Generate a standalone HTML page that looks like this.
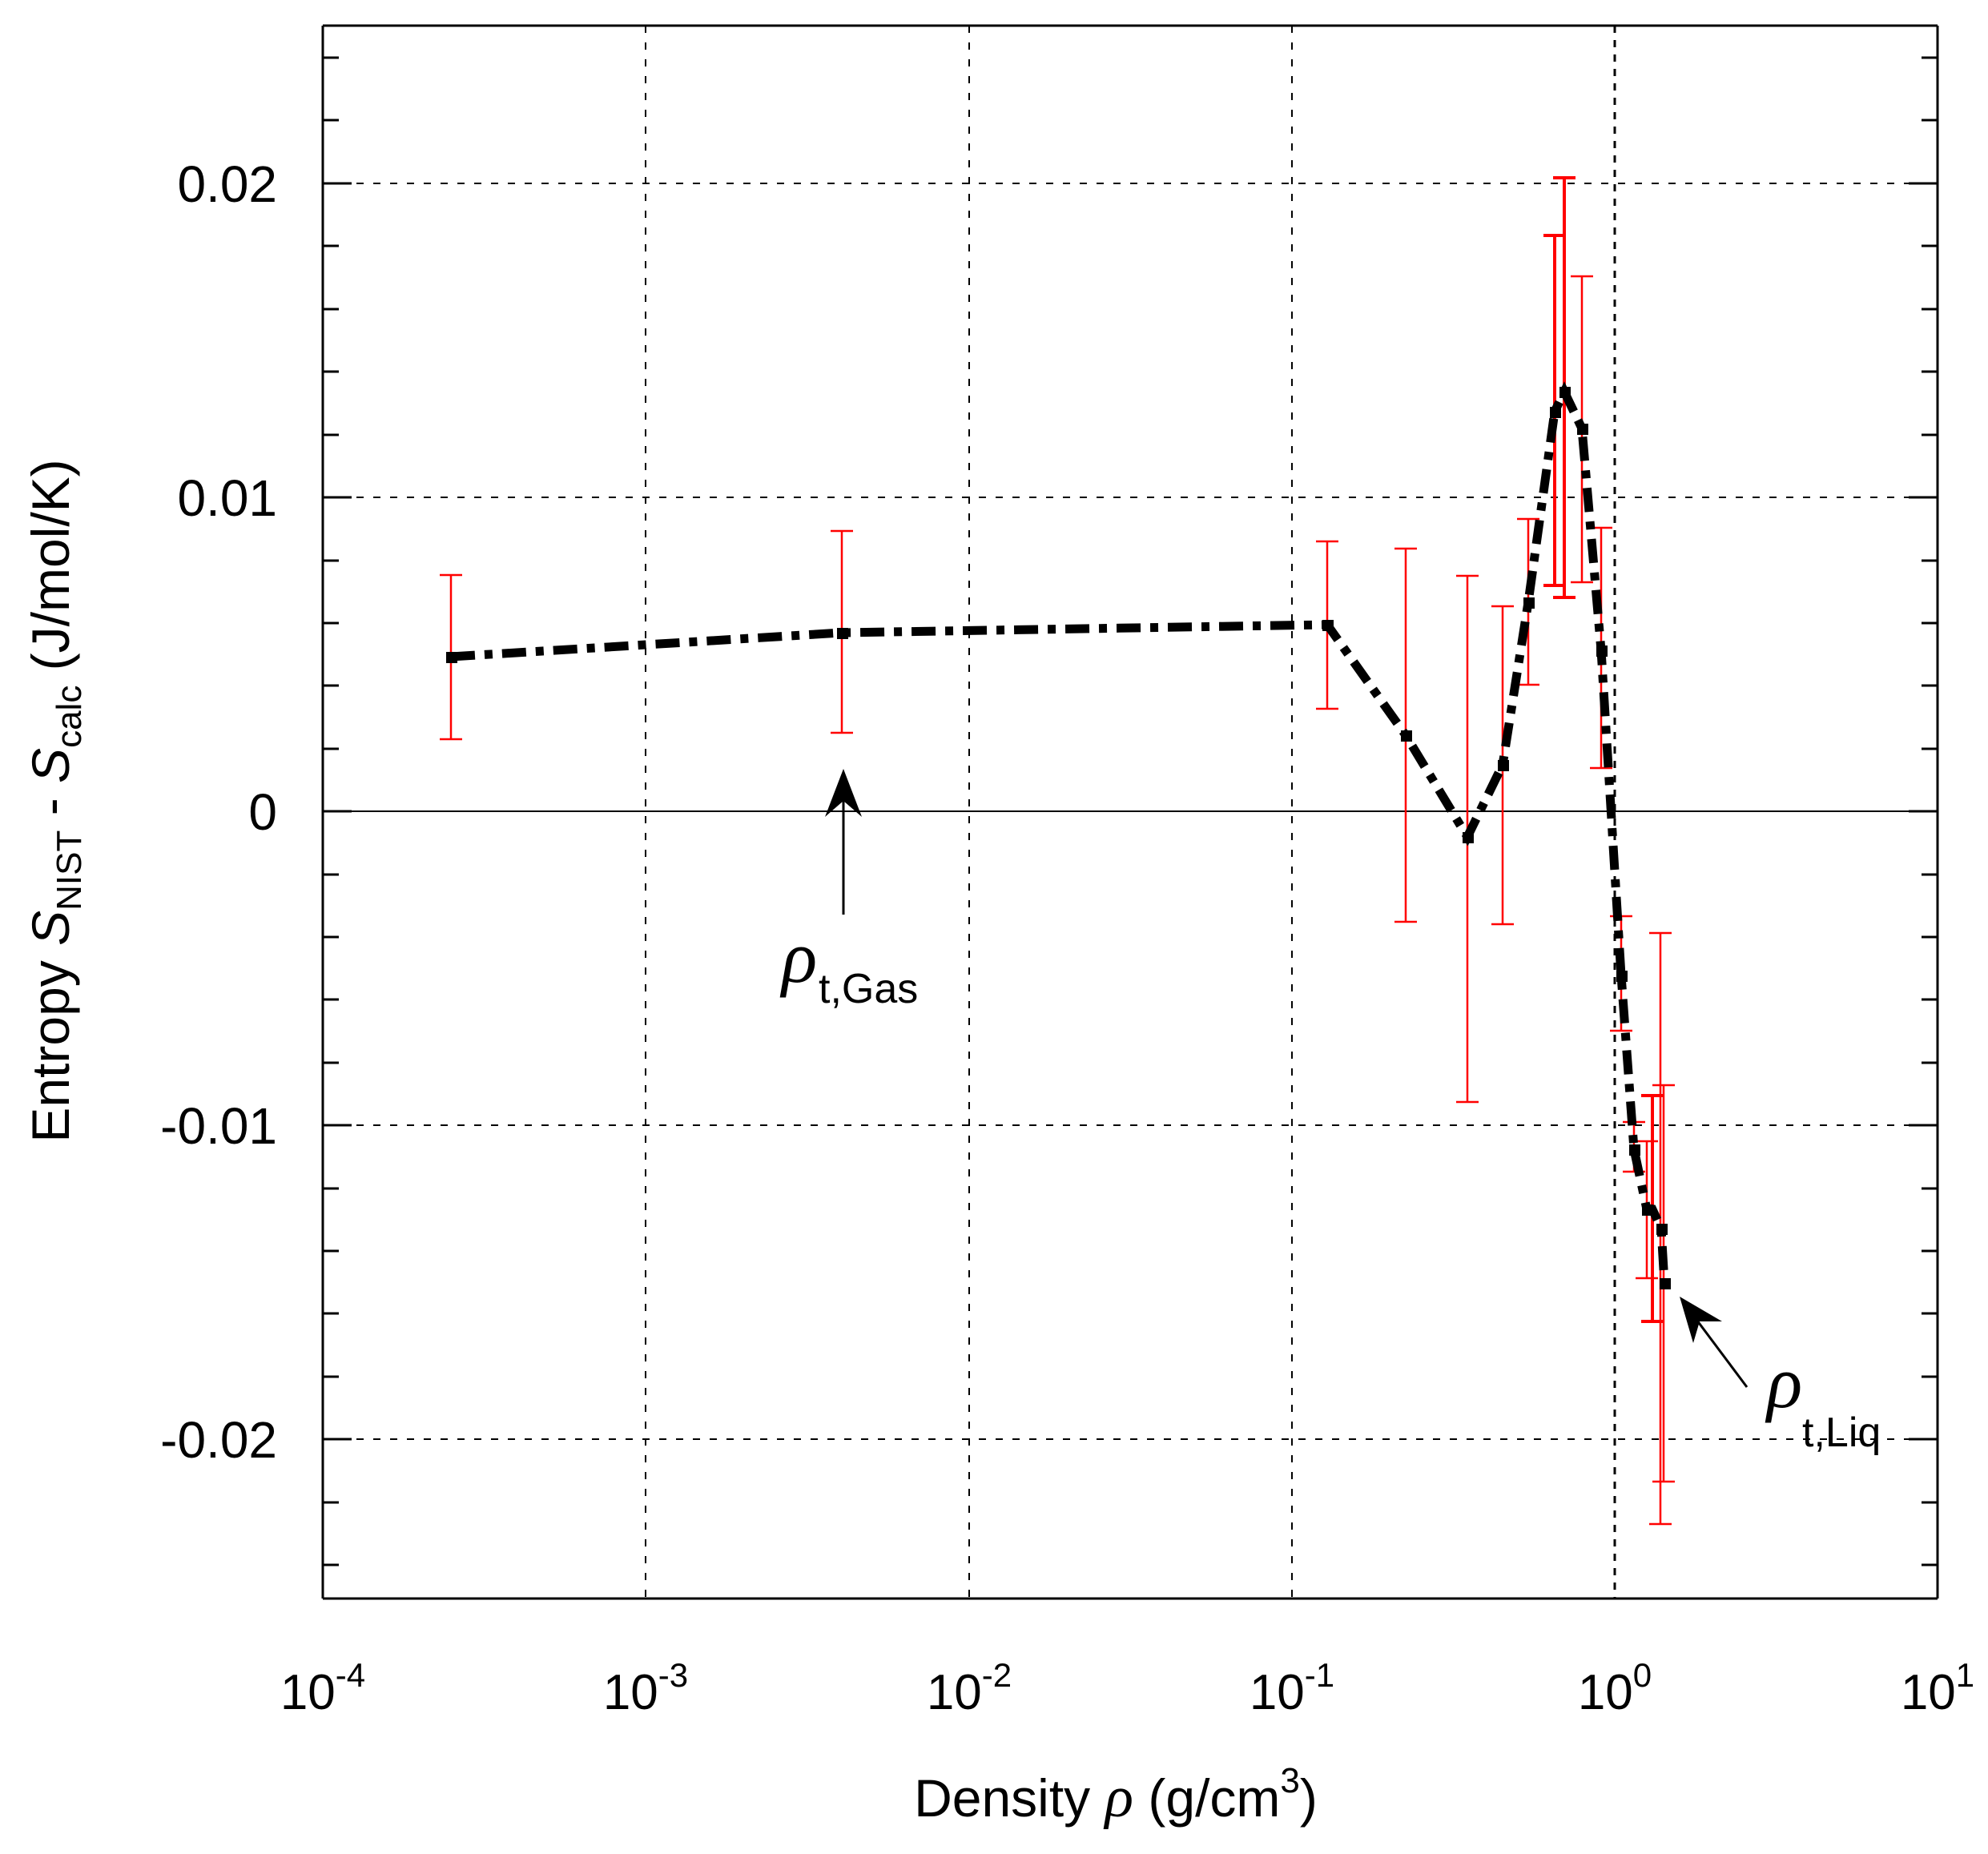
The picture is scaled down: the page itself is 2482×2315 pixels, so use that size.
<!DOCTYPE html>
<html><head><meta charset="utf-8"><style>html,body{margin:0;padding:0;background:#fff}svg{display:block}</style></head>
<body>
<svg width="2482" height="2315" viewBox="0 0 2482 2315" xmlns="http://www.w3.org/2000/svg" font-family="Liberation Sans, Arial, sans-serif">
<g stroke="#000" stroke-width="2" stroke-dasharray="9,12" fill="none">
<line x1="806" y1="32" x2="806" y2="1996"/>
<line x1="1210" y1="32" x2="1210" y2="1996"/>
<line x1="1613" y1="32" x2="1613" y2="1996"/>
<line x1="2016" y1="32" x2="2016" y2="1996" stroke-width="3" stroke-dasharray="9,9"/>
<line x1="403" y1="229" x2="2419" y2="229"/>
<line x1="403" y1="621" x2="2419" y2="621"/>
<line x1="403" y1="1405" x2="2419" y2="1405"/>
<line x1="403" y1="1797" x2="2419" y2="1797"/>
</g>
<line x1="403" y1="1013" x2="2419" y2="1013" stroke="#000" stroke-width="2"/>
<g stroke="#000" stroke-width="3">
<path d="M403 32V1996M2419 32V1996" />
<path d="M403 32H2419M403 1996H2419"/>
<path d="M403 72h20M403 150h20M403 229h36M403 307h20M403 386h20M403 464h20M403 543h20M403 621h36M403 700h20M403 778h20M403 856h20M403 935h20M403 1013h36M403 1092h20M403 1170h20M403 1248h20M403 1327h20M403 1405h36M403 1484h20M403 1562h20M403 1640h20M403 1719h20M403 1797h36M403 1876h20M403 1954h20"/>
<path d="M2419 72h-20M2419 150h-20M2419 229h-36M2419 307h-20M2419 386h-20M2419 464h-20M2419 543h-20M2419 621h-36M2419 700h-20M2419 778h-20M2419 856h-20M2419 935h-20M2419 1013h-36M2419 1092h-20M2419 1170h-20M2419 1248h-20M2419 1327h-20M2419 1405h-36M2419 1484h-20M2419 1562h-20M2419 1640h-20M2419 1719h-20M2419 1797h-36M2419 1876h-20M2419 1954h-20"/>
</g>
<g stroke="#f00" stroke-width="2.5" fill="none">
<path d="M563 718V923M549 718h28M549 923h28"/>
<path d="M1051 663V915M1037 663h28M1037 915h28"/>
<path d="M1657 676V885M1643 676h28M1643 885h28"/>
<path d="M1755 685V1151M1741 685h28M1741 1151h28"/>
<path d="M1832 719V1376M1818 719h28M1818 1376h28"/>
<path d="M1876 757V1154M1862 757h28M1862 1154h28"/>
<path d="M1908 648V855M1894 648h28M1894 855h28"/>
<path d="M1941 294V731M1927 294h28M1927 731h28" stroke-width="4"/>
<path d="M1953 222V746M1939 222h28M1939 746h28" stroke-width="4"/>
<path d="M1975 345V727M1961 345h28M1961 727h28"/>
<path d="M1999 659V959M1985 659h28M1985 959h28"/>
<path d="M2024 1144V1287M2010 1144h28M2010 1287h28"/>
<path d="M2040 1401V1463M2026 1401h28M2026 1463h28"/>
<path d="M2056 1425V1596M2042 1425h28M2042 1596h28"/>
<path d="M2063 1368V1650M2049 1368h28M2049 1650h28" stroke-width="4"/>
<path d="M2073 1165V1903M2059 1165h28M2059 1903h28"/>
<path d="M2077 1355V1850M2063 1355h28M2063 1850h28"/>
</g>
<polyline fill="none" stroke="#000" stroke-width="11" stroke-dasharray="30,12,10,12" points="563,820 1051,790 1657,780 1755,918 1832,1045 1876,955 1908,752 1941,514 1953,489 1975,535 1999,812 2024,1218 2040,1435 2056,1510 2063,1510 2074,1534 2078,1602"/>
<g fill="#000">
<rect x="557" y="814" width="14" height="14"/><rect x="1045" y="784" width="14" height="14"/><rect x="1651" y="774" width="14" height="14"/><rect x="1749" y="912" width="14" height="14"/><rect x="1826" y="1039" width="14" height="14"/><rect x="1870" y="949" width="14" height="14"/><rect x="1902" y="746" width="14" height="14"/><rect x="1935" y="508" width="14" height="14"/><rect x="1947" y="483" width="14" height="14"/><rect x="1969" y="529" width="14" height="14"/><rect x="1993" y="806" width="14" height="14"/><rect x="2018" y="1212" width="14" height="14"/><rect x="2034" y="1429" width="14" height="14"/><rect x="2050" y="1504" width="14" height="14"/><rect x="2068" y="1528" width="14" height="14"/><rect x="2072" y="1596" width="14" height="14"/>
</g>
<line x1="1053" y1="1142" x2="1053" y2="990" stroke="#000" stroke-width="3"/>
<path d="M1053 960 L1076 1020 L1053 1000 L1030 1020 Z" fill="#000"/>
<line x1="2181" y1="1732" x2="2110" y2="1637" stroke="#000" stroke-width="3"/>
<path d="M2097 1619 L2150 1650 L2122 1650 L2114 1677 Z" fill="#000"/>
<g font-size="64" fill="#000">
<text x="346" y="252" text-anchor="end">0.02</text>
<text x="346" y="644" text-anchor="end">0.01</text>
<text x="346" y="1036" text-anchor="end">0</text>
<text x="346" y="1428" text-anchor="end">-0.01</text>
<text x="346" y="1820" text-anchor="end">-0.02</text>
<g font-size="62">
<text x="403" y="2134" text-anchor="middle">10<tspan font-size="42" dy="-28">-4</tspan></text>
<text x="806" y="2134" text-anchor="middle">10<tspan font-size="42" dy="-28">-3</tspan></text>
<text x="1210" y="2134" text-anchor="middle">10<tspan font-size="42" dy="-28">-2</tspan></text>
<text x="1613" y="2134" text-anchor="middle">10<tspan font-size="42" dy="-28">-1</tspan></text>
<text x="2016" y="2134" text-anchor="middle">10<tspan font-size="42" dy="-28">0</tspan></text>
<text x="2419" y="2134" text-anchor="middle">10<tspan font-size="42" dy="-28">1</tspan></text>
</g>
<text x="1393" y="2268" text-anchor="middle" font-size="66">Density <tspan font-family="Liberation Serif, serif" font-style="italic" font-size="74">ρ</tspan> (g/cm<tspan font-size="44" dy="-30">3</tspan><tspan dy="30">)</tspan></text>
<text transform="translate(86,1000) rotate(-90)" text-anchor="middle" font-size="66">Entropy <tspan font-style="italic">S</tspan><tspan font-size="44" dy="15">NIST</tspan><tspan dy="-15"> - </tspan><tspan font-style="italic">S</tspan><tspan font-size="44" dy="15">calc</tspan><tspan dy="-15"> (J/mol/K)</tspan></text>
<text x="976" y="1226" font-family="Liberation Serif, serif" font-style="italic" font-size="92">ρ</text>
<text x="1022" y="1252" font-size="52">t,Gas</text>
<text x="2206" y="1757" font-family="Liberation Serif, serif" font-style="italic" font-size="92">ρ</text>
<text x="2250" y="1806" font-size="52">t,Liq</text>
</g>
</svg>
</body></html>
